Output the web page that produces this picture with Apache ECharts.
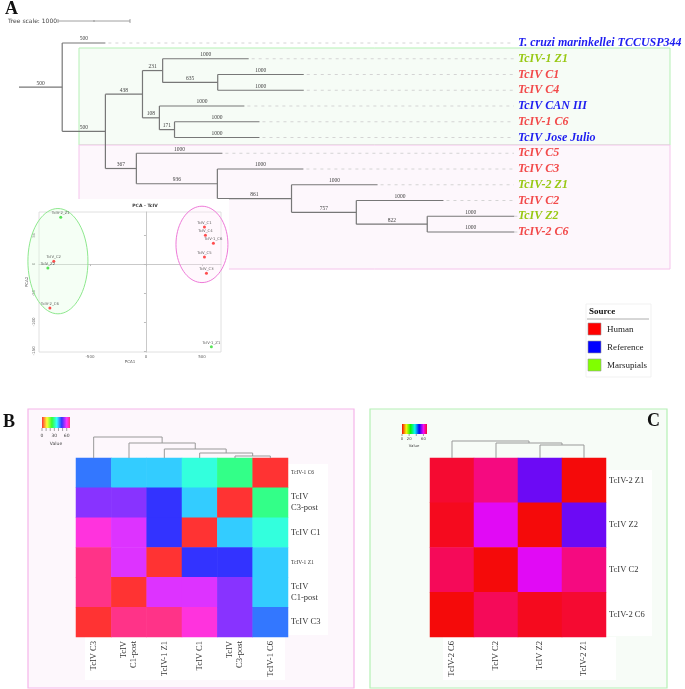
<!DOCTYPE html>
<html><head><meta charset="utf-8">
<script src="https://cdn.jsdelivr.net/npm/echarts@6/dist/echarts.min.js"></script>
<style>html,body{margin:0;padding:0;background:#fff}#c{width:685px;height:689px}</style>
</head><body><div id="c"></div><script>
// ---------- Panel A: phylogenetic tree ----------
const treeIds = ['A','T. cruzi marinkellei TCCUSP344','B','C','D','TcIV-1 Z1','E','TcIV C1','TcIV C4','F','TcIV CAN III','G','TcIV-1 C6','TcIV Jose Julio','H','TcIV C5','I','TcIV C3','J','TcIV-2 Z1','K','TcIV C2','L','TcIV Z2','TcIV-2 C6'];
const treeParents = ['', 'A','A','B','C','D','D','E','E','C','F','F','G','G','B','H','H','I','I','J','J','K','K','L','L'];
const branchLengths = [600,600,600,515,280,1195,765,1195,1195,235,1180,210,1180,1180,430,1195,1125,1195,1030,1195,900,1210,985,1210,1210];
const bootstrap = ['500','500','500','438','231','1000','635','1000','1000','108','1000','171','1000','1000','367','1000','936','1000','861','1000','757','1000','822','1000','1000'];
const treeSources = ['', 'Reference','', '', '', 'Marsupials','', 'Human','Human','', 'Reference','', 'Human','Reference','', 'Human','', 'Human','', 'Marsupials','', 'Human','', 'Marsupials','Human'];
const treeScaleValue = 1000;

// ---------- PCA inset ----------
const pcaLabels = ['TcIV-2_Z1','TcIV_C2','TcIV_Z2','TcIV-2_C6','TcIV_C1','TcIV_C4','TcIV-1_C6','TcIV_C5','TcIV_C3','TcIV-1_Z1'];
const pcaX = [-761,-823,-876,-858,522,531,602,522,540,584];
const pcaY = [81,5,-7,-76,64,50,36,12,-16,-143];
const pcaSources = ['Marsupials','Human','Marsupials','Human','Human','Human','Human','Human','Human','Marsupials'];
const pcaXTicks = [-500,0,500];
const pcaYTicks = [-150,-100,-50,0,50];
// ellipse: [centerX, centerY, radiusX, radiusY]
const ellipseGreen = [-786,5,268,91];
const ellipsePink = [500,34,232,66];

// ---------- Panel B heatmap ----------
const colsB = ['TcIV C3','TcIV\nC1-post','TcIV-1 Z1','TcIV C1','TcIV\nC3-post','TcIV-1 C6'];
const rowsB = ['TcIV-1 C6','TcIV\nC3-post','TcIV C1','TcIV-1 Z1','TcIV\nC1-post','TcIV C3'];
const valuesB = [
  [44,39,39,34,29,0],
  [53,53,48,39,0,29],
  [62,58,48,0,39,34],
  [67,58,0,48,48,39],
  [67,0,58,58,53,39],
  [0,67,67,62,53,44]
];
// merges: [left, right, height]; numbers = column index, 'mK' = merge K
const mergesB = [[4,5,2],[3,'m0',5],[2,'m1',9],[1,'m2',15],[0,'m3',21]];
const colorbarTicksB = [0,10,20,30,40,50,60];
const colorbarLabelsB = [0,30,60];

// ---------- Panel C heatmap ----------
const colsC = ['TcIV-2 C6','TcIV C2','TcIV Z2','TcIV-2 Z1'];
const rowsC = ['TcIV-2 Z1','TcIV Z2','TcIV C2','TcIV-2 C6'];
const valuesC = [
  [70,66,53,0],
  [71,59,0,53],
  [68,0,59,66],
  [0,68,71,70]
];
const mergesC = [[2,3,13],[1,'m0',15],[0,'m1',17]];
const colorbarTicksC = [0,20,40,60];
const colorbarLabelsC = [0,20,60];

const legendItems = ['Human','Reference','Marsupials'];

// ---------- styles ----------
const sourceColors = {Human:'#f24a4a', Reference:'#1e1ef0', Marsupials:'#98c814'};
const legendColors = {Human:'#ff0000', Reference:'#0000ff', Marsupials:'#80ff00'};
const pcaColors = {Human:'#ff2020', Marsupials:'#30dd30'};
const SERIF = '"Liberation Serif","DejaVu Serif",serif';
const SANS = '"DejaVu Sans","Liberation Sans",sans-serif';

function hslHex(h,s,l){ s/=100; l/=100; const k=n=>(n+h/30)%12; const a=s*Math.min(l,1-l);
  const f=n=>l-a*Math.max(-1,Math.min(k(n)-3,Math.min(9-k(n),1)));
  const to=x=>Math.round(x*255).toString(16).padStart(2,'0'); return '#'+to(f(0))+to(f(8))+to(f(4)); }
const VMAX = 72;
const hueStops = Array.from({length:25},(_,i)=>i*15);
const palB = hueStops.map(h=>hslHex(h,100,60));
const palC = hueStops.map(h=>hslHex(h,92,50));
function gradient(sat,light,vEnd){ const stops=[]; for(let v=0; v<=vEnd; v+=2){ stops.push({offset:v/vEnd,color:hslHex(v*360/VMAX,sat,light)}); } return {type:'linear',x:0,y:0,x2:1,y2:0,colorStops:stops}; }

// ---------- tree layout ----------
const TREE = {left:19, top:43, width:666, height:189};
const pxPerUnit = 72/treeScaleValue;
const xMaxTree = TREE.width/pxPerUnit;
const leafLabelX = (518-TREE.left)/pxPerUnit;
const dashEndX = (514-TREE.left)/pxPerUnit;
const children = {};
treeIds.forEach((id,i)=>{ const p=treeParents[i]; if(p){ (children[p]=children[p]||[]).push(i); } });
const startX=[], endX=[], nodeY=[], yMin=[], yMax=[];
let leafCount=0;
(function layout(i,px){ startX[i]=px; endX[i]=px+branchLengths[i]; const ch=children[treeIds[i]];
  if(!ch){ nodeY[i]=leafCount++; return; }
  ch.forEach(c=>layout(c,endX[i]));
  const ys=ch.map(c=>nodeY[c]); yMin[i]=Math.min(...ys); yMax[i]=Math.max(...ys);
  nodeY[i]=ys.reduce((s,v)=>s+v,0)/ys.length; })(0,0);
const treeData = treeIds.map((id,i)=>[startX[i], endX[i], nodeY[i], i]);

function dendroItems(merges){ const pos=[], hts=[];
  const ref=r=> typeof r==='number' ? [r+0.5,0] : [pos[+r.slice(1)], hts[+r.slice(1)]];
  return merges.map((m,k)=>{ const a=ref(m[0]), b=ref(m[1]); pos[k]=(a[0]+b[0])/2; hts[k]=m[2]; return [a[0],a[1],b[0],b[1],m[2]]; }); }
function heatData(vals){ const d=[]; vals.forEach((row,r)=>row.forEach((v,c)=>d.push([c,r,v]))); return d; }
function ellipsePts(e,api){ const pts=[]; for(let k=0;k<72;k++){ const t=k/72*Math.PI*2; pts.push(api.coord([e[0]+e[2]*Math.cos(t), e[1]+e[3]*Math.sin(t)])); } return pts; }

const dendroRender = (params, api) => {
  const a0=api.coord([api.value(0),api.value(1)]), a1=api.coord([api.value(0),api.value(4)]);
  const b1=api.coord([api.value(2),api.value(4)]), b0=api.coord([api.value(2),api.value(3)]);
  return {type:'polyline', shape:{points:[a0,a1,b1,b0]}, style:{stroke:'#999', lineWidth:1, fill:null}};
};

const heatAxisLabel = {fontFamily:SERIF, fontSize:8.5, color:'#333', lineHeight:10};

const option = {
  animation:false,
  backgroundColor:'#fff',
  grid:[
    {left:TREE.left, top:TREE.top, width:TREE.width, height:TREE.height},
    {left:39, top:212, width:182, height:140, show:true, borderColor:'#d8d8d8', borderWidth:0.8, backgroundColor:'#fff', z:5},
    {left:76, top:458, width:212, height:179},
    {left:76, top:437, width:212, height:21},
    {left:430, top:458, width:176, height:179},
    {left:430, top:441, width:176, height:17}
  ],
  xAxis:[
    {gridIndex:0, type:'value', min:0, max:xMaxTree, show:false},
    {gridIndex:1, type:'value', min:-955, max:670, z:5, name:'PCA1', nameLocation:'middle', nameGap:7,
      nameTextStyle:{fontSize:4, color:'#555', fontFamily:SANS},
      axisLine:{lineStyle:{color:'#bbb', width:0.8}}, splitLine:{show:false},
      axisTick:{customValues:pcaXTicks, length:2, lineStyle:{color:'#bbb'}},
      axisLabel:{customValues:pcaXTicks, fontSize:4, color:'#666', margin:3, fontFamily:SANS}},
    {gridIndex:2, type:'category', data:colsB, position:'bottom', z:4, axisLine:{show:false}, axisTick:{show:false},
      axisLabel:Object.assign({rotate:90, interval:0, margin:4}, heatAxisLabel)},
    {gridIndex:3, type:'value', min:0, max:colsB.length, show:false},
    {gridIndex:4, type:'category', data:colsC, position:'bottom', z:4, axisLine:{show:false}, axisTick:{show:false},
      axisLabel:Object.assign({rotate:90, interval:0, margin:4}, heatAxisLabel)},
    {gridIndex:5, type:'value', min:0, max:colsC.length, show:false}
  ],
  yAxis:[
    {gridIndex:0, type:'value', min:0, max:leafCount-1, inverse:true, show:false},
    {gridIndex:1, type:'value', min:-152, max:90, z:5, name:'PCA2', nameLocation:'middle', nameGap:10, nameRotate:90,
      nameTextStyle:{fontSize:4, color:'#555', fontFamily:SANS},
      axisLine:{show:true, lineStyle:{color:'#bbb', width:0.8}}, splitLine:{show:false},
      axisTick:{show:true, customValues:pcaYTicks, length:2, lineStyle:{color:'#bbb'}},
      axisLabel:{customValues:pcaYTicks, fontSize:4, color:'#666', rotate:90, margin:3, fontFamily:SANS}},
    {gridIndex:2, type:'category', data:rowsB, inverse:true, position:'right', z:4, axisLine:{show:false}, axisTick:{show:false},
      axisLabel:Object.assign({interval:0, margin:3, align:'left', lineHeight:11,
        formatter:v=> v.indexOf('-1 ')>=0 ? '{s|'+v+'}' : v,
        rich:{s:{fontSize:5.5, fontFamily:SERIF, color:'#333'}}}, {fontFamily:SERIF, fontSize:8.5, color:'#333'})},
    {gridIndex:3, type:'value', min:0, max:21, show:false},
    {gridIndex:4, type:'category', data:rowsC, inverse:true, position:'right', z:4, axisLine:{show:false}, axisTick:{show:false},
      axisLabel:Object.assign({interval:0, margin:3, align:'left'}, heatAxisLabel)},
    {gridIndex:5, type:'value', min:0, max:17, show:false}
  ],
  visualMap:[
    {type:'continuous', seriesIndex:3, dimension:2, min:0, max:VMAX, show:false, inRange:{color:palB}},
    {type:'continuous', seriesIndex:5, dimension:2, min:0, max:VMAX, show:false, inRange:{color:palC}}
  ],
  series:[
    {type:'custom', xAxisIndex:0, yAxisIndex:0, z:2, data:treeData, clip:false,
      renderItem:(params, api)=>{
        const i=api.value(3);
        const y=api.value(2);
        const p0=api.coord([api.value(0),y]), p1=api.coord([api.value(1),y]);
        const els=[{type:'line', shape:{x1:p0[0],y1:p0[1],x2:p1[0],y2:p1[1]}, style:{stroke:'#777', lineWidth:1.2}}];
        els.push({type:'text', x:(p0[0]+p1[0])/2, y:p0[1]-1, style:{text:bootstrap[i], font:'5.5px '+SERIF, fill:'#444', align:'center', verticalAlign:'bottom'}});
        if(children[treeIds[i]]){
          const t=api.coord([api.value(1),yMin[i]]), b=api.coord([api.value(1),yMax[i]]);
          els.push({type:'line', shape:{x1:t[0],y1:t[1],x2:b[0],y2:b[1]}, style:{stroke:'#777', lineWidth:1.2}});
        } else {
          const d=api.coord([dashEndX,y]), l=api.coord([leafLabelX,y]);
          els.push({type:'line', shape:{x1:p1[0]+3,y1:p1[1],x2:d[0],y2:d[1]}, style:{stroke:'#d4d4d4', lineWidth:1, lineDash:[3,4]}});
          els.push({type:'text', x:l[0], y:l[1], style:{text:treeIds[i], font:'italic bold 12px '+SERIF, fill:sourceColors[treeSources[i]], align:'left', verticalAlign:'middle'}});
        }
        return {type:'group', children:els};
      }},
    {type:'custom', xAxisIndex:1, yAxisIndex:1, z:6, clip:false, data:[[0],[1]],
      renderItem:(params, api)=>{
        const e = params.dataIndex===0 ? ellipseGreen : ellipsePink;
        const st = params.dataIndex===0 ? {stroke:'#8ee88e', fill:'rgba(225,255,225,0.35)', lineWidth:1} : {stroke:'#ee7ad8', fill:'rgba(255,235,250,0.35)', lineWidth:1};
        return {type:'polygon', shape:{points:ellipsePts(e,api)}, style:st};
      }},
    {type:'scatter', xAxisIndex:1, yAxisIndex:1, z:7, symbolSize:3,
      data:pcaLabels.map((n,i)=>({name:n, value:[pcaX[i],pcaY[i]], itemStyle:{color:pcaColors[pcaSources[i]]}})),
      label:{show:true, position:'top', distance:0.5, formatter:'{b}', fontSize:3.8, color:'#333', fontFamily:SANS}},
    {type:'heatmap', xAxisIndex:2, yAxisIndex:2, z:2, data:heatData(valuesB), itemStyle:{borderWidth:0}},
    {type:'custom', xAxisIndex:3, yAxisIndex:3, z:2, clip:false, data:dendroItems(mergesB), renderItem:dendroRender},
    {type:'heatmap', xAxisIndex:4, yAxisIndex:4, z:2, data:heatData(valuesC), itemStyle:{borderWidth:0}},
    {type:'custom', xAxisIndex:5, yAxisIndex:5, z:2, clip:false, data:dendroItems(mergesC), renderItem:dendroRender}
  ],
  graphic:[]
};

const G = option.graphic;
function txt(x,y,text,font,fill,align,valign,z,rot){ G.push({type:'text', x, y, z:z||10, rotation:rot||0, style:{text, font, fill:fill||'#000', align:align||'left', verticalAlign:valign||'top'}}); }
function rect(x,y,w,h,fill,stroke,z,lw){ G.push({type:'rect', z:z||0, shape:{x,y,width:w,height:h}, style:{fill, stroke:stroke||null, lineWidth:lw||1}}); }
function line(x1,y1,x2,y2,stroke,z,lw){ G.push({type:'line', z:z||10, shape:{x1,y1,x2,y2}, style:{stroke, lineWidth:lw||1}}); }

// Panel A
txt(5,0,'A','bold 18px '+SERIF,'#111','left','top',10);
txt(8,21,'Tree scale: '+treeScaleValue,'6px '+SANS,'#444','left','middle',10);
const sbL=58, sbR=58+treeScaleValue*pxPerUnit;
line(sbL,21,sbR,21,'#888',10,0.8); line(sbL,19,sbL,23,'#888',10,0.8); line(sbR,19,sbR,23,'#888',10,0.8); line((sbL+sbR)/2,20,(sbL+sbR)/2,22,'#888',10,0.8);
rect(79,48,591,97,'#f6fcf6','#b5f0b5',0,1);
rect(79,145,591,124,'#fdf7fc','#f5c4ec',0,1);
rect(0,199,229,170,'#ffffff',null,3);
txt(145,206,'PCA - TcIV','bold 4.5px '+SANS,'#333','center','middle',8);
// legend
rect(586,304,65,73,'#ffffff','#eeeeee',3,0.8);
txt(589,312,'Source','bold 9px '+SERIF,'#111','left','middle',8);
line(587,319,649,319,'#999',8,0.8);
legendItems.forEach((k,i)=>{ const y=323+i*18; rect(588,y,13,12,legendColors[k],'#999',8,0.6); txt(607,y+6.5,k,'9px '+SERIF,'#222','left','middle',8); });

// Panel B
rect(28,409,326,279,'#fdf7fc','#f5b5ea',0,1.2);
txt(3,413,'B','bold 18px '+SERIF,'#111','left','top',10);
rect(288,464,40,171,'#ffffff',null,1);
rect(85,637,200,43,'#ffffff',null,1);
G.push({type:'rect', z:5, shape:{x:42,y:417,width:28,height:11}, style:{fill:gradient(100,60,68)}});
colorbarTicksB.forEach(v=>{ const x=42+v*28/68; line(x,428,x,431,'#666',5,0.6); });
colorbarLabelsB.forEach(v=>txt(42+v*28/68,433,String(v),'4.5px '+SANS,'#444','center','top',5));
txt(56,441,'Value','4.5px '+SANS,'#444','center','top',5);

// Panel C
rect(370,409,297,279,'#f7fcf7','#b5f0b5',0,1.2);
txt(647,412,'C','bold 18px '+SERIF,'#111','left','top',10);
rect(606,470,46,166,'#ffffff',null,1);
rect(443,637,173,43,'#ffffff',null,1);
G.push({type:'rect', z:5, shape:{x:402,y:424,width:25,height:10}, style:{fill:gradient(92,50,70)}});
colorbarTicksC.forEach(v=>{ const x=402+v*25/70; line(x,434,x,436,'#666',5,0.6); });
colorbarLabelsC.forEach(v=>txt(402+v*25/70,437,String(v),'3.8px '+SANS,'#444','center','top',5));
txt(414,444,'Value','3.8px '+SANS,'#444','center','top',5);

const chart = echarts.init(document.getElementById('c'), null, {renderer:'canvas', width:685, height:689});
chart.setOption(option);
</script></body></html>
